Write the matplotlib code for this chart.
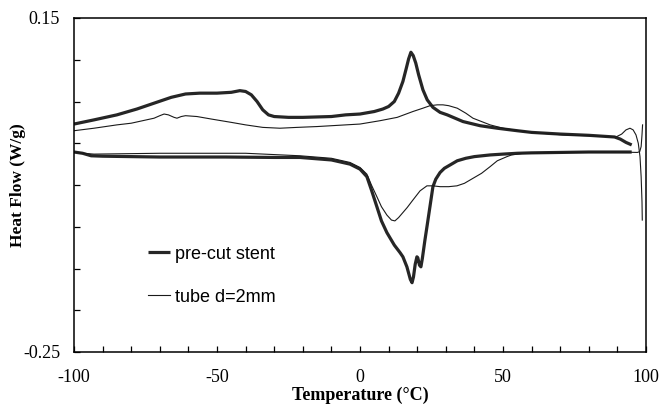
import matplotlib
matplotlib.use("Agg")
import matplotlib.pyplot as plt
from matplotlib.ticker import FixedLocator, FixedFormatter

# ---- data ----
stent_heat_x = [-100, -93, -85, -78, -72, -66, -61, -56, -50, -45, -42, -40, -38, -36, -34, -32,
                -30, -25, -20, -10, -5, 0, 5, 8, 10, 12, 13.5, 15, 16.2, 17, 17.8, 18.6, 19.5,
                20.5, 22, 23.5, 25.5, 28, 30.5, 36, 42, 48, 55, 60, 70, 80, 89, 91, 93, 95]
stent_heat_y = [0.023, 0.028, 0.034, 0.041, 0.048, 0.055, 0.059, 0.060, 0.060, 0.061, 0.063,
                0.062, 0.058, 0.050, 0.040, 0.034, 0.032, 0.031, 0.031, 0.032, 0.034, 0.035,
                0.038, 0.041, 0.044, 0.050, 0.060, 0.074, 0.090, 0.101, 0.109, 0.105, 0.096,
                0.082, 0.064, 0.052, 0.043, 0.037, 0.034, 0.026, 0.021, 0.018, 0.015, 0.013,
                0.011, 0.0095, 0.0075, 0.005, 0.001, -0.002]

stent_cool_x = [95, 80, 70, 60, 55, 50, 45.5, 40, 37, 34, 31.5, 29.5, 28, 26.5, 25.5, 24.5,
                23.5, 22.7, 21.8, 21.3, 20.8, 20.2, 19.9, 19.3, 18.7, 18.2, 17.6, 16.4, 15,
                14, 12, 9.4, 7.5, 5.9, 4, 2.4, 0, -3.5, -10, -21, -30, -47, -70, -90, -94,
                -97, -100]
stent_cool_y = [-0.0105, -0.0105, -0.011, -0.0115, -0.012, -0.013, -0.014, -0.016, -0.018,
                -0.021, -0.026, -0.030, -0.035, -0.043, -0.052, -0.075, -0.098, -0.116,
                -0.138, -0.148, -0.146, -0.137, -0.136, -0.145, -0.160, -0.167, -0.163,
                -0.148, -0.136, -0.131, -0.122, -0.107, -0.093, -0.076, -0.056, -0.040,
                -0.031, -0.025, -0.020, -0.017, -0.017, -0.0165, -0.0165, -0.0155, -0.015,
                -0.012, -0.0105]

tube_heat_x = [-100, -93, -85, -80, -76, -72, -70, -68.5, -67, -65, -64, -62.5, -61, -57, -52,
               -45, -40, -34, -28, -22, -15, -10, 0, 7, 13, 18.5, 22, 24.5, 27, 29, 31, 34, 37,
               39.5, 42.5, 45.5, 50, 53.5, 60, 71, 80, 89.5, 91.5, 93, 94.4, 95.5, 96.5, 97.3,
               97.9, 98.3, 98.6, 98.7]
tube_heat_y = [0.015, 0.018, 0.022, 0.024, 0.027, 0.030, 0.033, 0.035, 0.034, 0.031, 0.030,
               0.032, 0.033, 0.032, 0.029, 0.025, 0.022, 0.019, 0.018, 0.019, 0.020, 0.021,
               0.023, 0.027, 0.031, 0.038, 0.042, 0.045, 0.046, 0.046, 0.045, 0.042, 0.036,
               0.030, 0.026, 0.022, 0.018, 0.016, 0.013, 0.010, 0.009, 0.0075, 0.011, 0.016,
               0.018, 0.016, 0.010, 0.000, -0.016, -0.040, -0.070, -0.092]

tube_cool_x = [98.8, 98.6, 98.3, 97.8, 97, 90, 70, 57, 53, 51.4, 48, 45.5, 42.5, 39.5, 36.5,
               33.9, 31, 28, 25.5, 23.4, 21, 18.5, 16.5, 15, 13.5, 12.2, 11, 9.4, 7.5, 5.9, 4,
               2.4, 0, -3.5, -10, -21, -40, -70, -93, -97, -100]
tube_cool_y = [0.022, 0.010, -0.004, -0.010, -0.011, -0.0105, -0.011, -0.012, -0.014, -0.016,
               -0.021, -0.028, -0.036, -0.042, -0.048, -0.051, -0.052, -0.052, -0.051, -0.051,
               -0.057, -0.068, -0.077, -0.083, -0.089, -0.093, -0.092, -0.086, -0.076, -0.064,
               -0.050, -0.037, -0.029, -0.023, -0.018, -0.015, -0.012, -0.012, -0.013, -0.012,
               -0.0105]

series_labels = ["pre-cut stent", "tube d=2mm"]
x_ticks = [-100, -90, -80, -70, -60, -50, -40, -30, -20, -10, 0, 10, 20, 30, 40, 50, 60, 70, 80, 90, 100]
x_ticklabels = ["-100", "", "", "", "", "-50", "", "", "", "", "0", "", "", "", "", "50", "", "", "", "", "100"]
y_ticks = [-0.25, -0.20, -0.15, -0.10, -0.05, 0.0, 0.05, 0.10, 0.15]
y_ticklabels = ["-0.25", "", "", "", "", "", "", "", "0.15"]

# ---- plot ----
fig = plt.figure(figsize=(6.6, 4.07), dpi=100)
ax = fig.add_axes([74/660, 1 - 352/407, (646-74)/660, (352-18)/407])

thick_c = "#262626"
thin_c = "#1a1a1a"
l1, = ax.plot(stent_heat_x, stent_heat_y, color=thick_c, lw=2.3, solid_capstyle="butt")
ax.plot(stent_cool_x, stent_cool_y, color=thick_c, lw=2.3, solid_capstyle="butt")
l2, = ax.plot(tube_heat_x, tube_heat_y, color=thin_c, lw=0.8)
ax.plot(tube_cool_x, tube_cool_y, color=thin_c, lw=0.8)

ax.set_xlim(-100, 100)
ax.set_ylim(-0.25, 0.15)

serif = "Liberation Serif"
ax.xaxis.set_major_locator(FixedLocator(x_ticks))
ax.xaxis.set_major_formatter(FixedFormatter(x_ticklabels))
ax.yaxis.set_major_locator(FixedLocator(y_ticks))
ax.yaxis.set_major_formatter(FixedFormatter(y_ticklabels))
ax.tick_params(axis="both", direction="in", length=4, width=0.9, colors="black")
ax.tick_params(axis="x", pad=12)
ax.tick_params(axis="y", pad=10)
for t in ax.get_xticklabels() + ax.get_yticklabels():
    t.set_fontfamily(serif)
    t.set_fontsize(13)

for s in ax.spines.values():
    s.set_linewidth(1.1)
    s.set_color("black")

ax.set_xlabel("Temperature (°C)", fontfamily=serif, fontweight="bold", fontsize=13, labelpad=1)
ax.set_ylabel("Heat Flow (W/g)", fontfamily=serif, fontweight="bold", fontsize=12.5)
ax.yaxis.set_label_coords(-0.084, 0.5)

leg = ax.legend([l1, l2], series_labels, loc="upper left", bbox_to_anchor=(0.13, 0.318),
                frameon=False, prop={"family": "Liberation Sans", "size": 13},
                handlelength=1.2, handletextpad=0.3, labelspacing=1.43,
                borderpad=0, borderaxespad=0)

fig.savefig("out.png", dpi=100)
